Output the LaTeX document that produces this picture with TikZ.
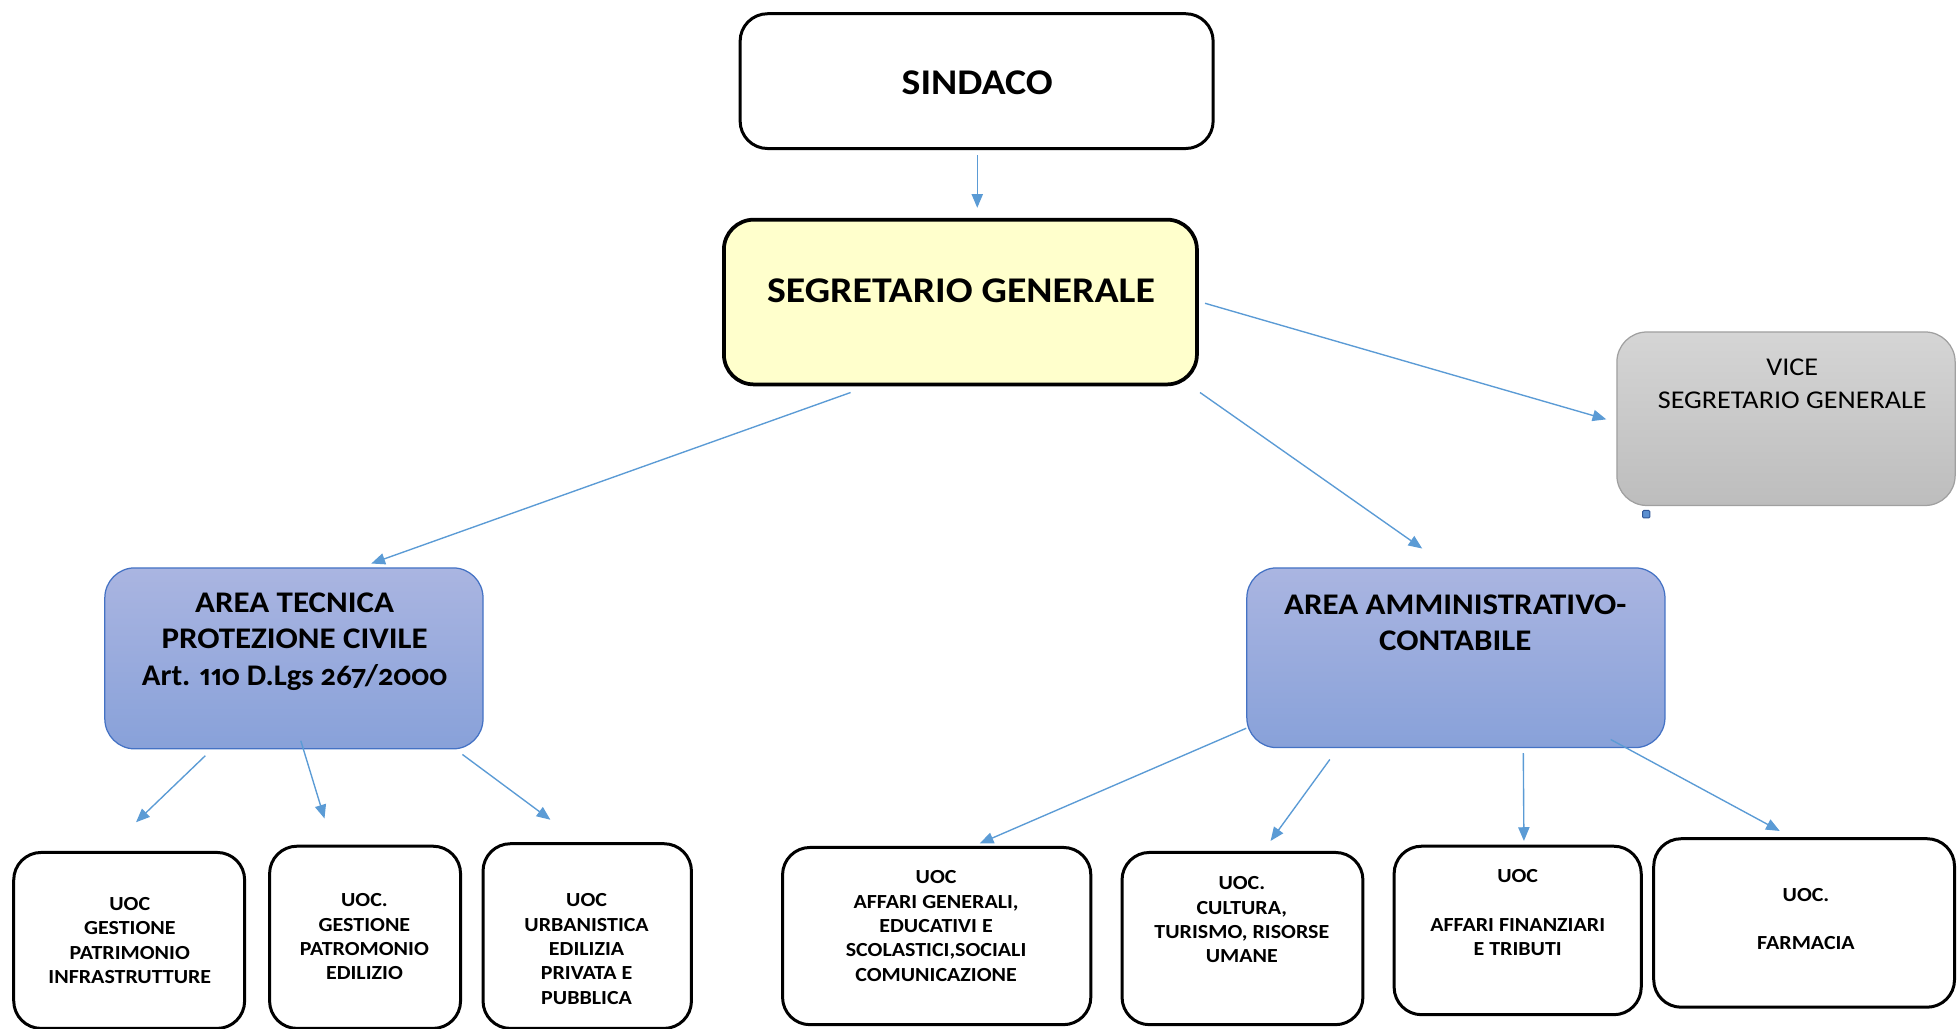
\documentclass[tikz,border=0pt]{standalone}
\usepackage{fontspec}
\setmainfont{Carlito}[FakeStretch=1.1]
\newfontfamily\oldnum{Carlito}[Numbers={Proportional,OldStyle},FakeStretch=1.03]
\usetikzlibrary{arrows.meta,calc}
\definecolor{arrblue}{HTML}{5B9BD5}
\definecolor{segyel}{HTML}{FFFFCC}
\definecolor{areatop}{HTML}{AAB5E1}
\definecolor{areabot}{HTML}{88A1D9}
\definecolor{areaedge}{HTML}{4472C4}
\definecolor{vicetop}{HTML}{D5D5D5}
\definecolor{vicebot}{HTML}{BDBDBD}
\definecolor{viceedge}{HTML}{A0A0A0}
\definecolor{sqfill}{HTML}{5B8FD0}
\definecolor{sqedge}{HTML}{2F5597}
\tikzset{
  conn/.style={draw=arrblue, line width=1.1pt, -{Triangle[length=11pt,width=9pt]}},
  whitebox/.style={draw=black, line width=2.4pt, fill=white, rounded corners=22pt, inner sep=0pt},
  segbox/.style={draw=black, line width=3pt, fill=segyel, rounded corners=24pt, inner sep=0pt},
  areabox/.style={draw=areaedge, line width=1pt, top color=areatop, bottom color=areabot, rounded corners=24pt, inner sep=0pt},
  vicebox/.style={draw=viceedge, line width=1pt, top color=vicetop, bottom color=vicebot, rounded corners=24pt, inner sep=0pt},
  bigtxt/.style={font=\bfseries\fontsize{29}{35}\selectfont, align=center, inner sep=0pt},
  segtxt/.style={font=\bfseries\fontsize{29}{35}\selectfont, align=center, inner sep=0pt},
  areatxt/.style={font=\bfseries\fontsize{24}{29}\selectfont, align=center, inner sep=0pt},
  vicetxt/.style={font=\fontsize{20.5}{27}\selectfont, align=center, inner sep=0pt},
  uoctxt/.style={font=\bfseries\fontsize{16}{19.5}\selectfont, align=center, inner sep=0pt},
}
\begin{document}
\begin{tikzpicture}[x=1pt,y=-1pt]
\useasboundingbox (0,0) rectangle (1568,824);
% top boxes
\node[whitebox, minimum width=379pt, minimum height=108pt] (sind) at (782.5,65) {};
\node[bigtxt] (sindT) at (783,66) {SINDACO};
\node[segbox, minimum width=379pt, minimum height=132pt] (seg) at (769.5,242) {};
\node[segtxt] (segT) at (770,233) {SEGRETARIO GENERALE};
\node[vicebox, minimum width=271pt, minimum height=139pt] (vice) at (1431,335.5) {};
\node[vicetxt] (viceT) at (1436,307.5) {VICE\\SEGRETARIO GENERALE};
\node[draw=sqedge, fill=sqfill, line width=0.8pt, minimum size=6pt, inner sep=0pt, rounded corners=1pt] (sq) at (1319,412) {};
% areas
\node[areabox, minimum width=303pt, minimum height=145pt] (tec) at (235.5,527.5) {};
\node[areatxt] (tecT) at (236,514) {AREA TECNICA\\PROTEZIONE CIVILE\\{\oldnum Art. 110 D.Lgs 267/2000}};
\node[areabox, minimum width=335pt, minimum height=144pt] (amm) at (1166.5,527) {};
\node[areatxt] (ammT) at (1166,499) {AREA AMMINISTRATIVO-\\CONTABILE};
% bottom boxes
\node[whitebox, minimum width=185pt, minimum height=141pt] (ua) at (103.5,753.5) {};
\node[uoctxt] (uaT) at (104,753.5) {UOC\\GESTIONE\\PATRIMONIO\\INFRASTRUTTURE};
\node[whitebox, minimum width=153pt, minimum height=146pt] (ub) at (292.5,751) {};
\node[uoctxt] (ubT) at (292,750.5) {UOC.\\GESTIONE\\PATROMONIO\\EDILIZIO};
\node[whitebox, minimum width=167pt, minimum height=148pt] (uc) at (470.5,750) {};
\node[uoctxt] (ucT) at (470,760.5) {UOC\\URBANISTICA\\EDILIZIA\\PRIVATA E\\PUBBLICA};
\node[whitebox, minimum width=247pt, minimum height=142pt] (ud) at (750.5,750) {};
\node[uoctxt] (udT) at (750,742) {UOC\\AFFARI GENERALI,\\EDUCATIVI E\\SCOLASTICI,SOCIALI\\COMUNICAZIONE};
\node[whitebox, minimum width=193pt, minimum height=138pt] (ue) at (995.5,752) {};
\node[uoctxt] (ueT) at (995,737) {UOC.\\CULTURA,\\TURISMO, RISORSE\\UMANE};
\node[whitebox, minimum width=198pt, minimum height=135pt] (uf) at (1216,745.5) {};
\node[uoctxt] (ufT) at (1216,731.5) {UOC\\[19.5pt]AFFARI FINANZIARI\\E TRIBUTI};
\node[whitebox, minimum width=241pt, minimum height=135pt] (ug) at (1445.5,739.5) {};
\node[uoctxt] (ugT) at (1447,736) {UOC.\\[19pt]FARMACIA};
% connectors
\draw[conn] ($(sind.south)+(0.5,4)$) -- ($(seg.north)+(13.5,-8)$);
\draw[conn] ($(seg.south west)+(103,5)$) -- ($(tec.north west)+(214,-3)$);
\draw[conn] ($(seg.south east)+(1,5)$) -- ($(amm.north west)+(141,-15)$);
\draw[conn] ($(seg.east)+(5,1)$) -- ($(vice.west)+(-8,0.5)$);
\draw[conn] ($(tec.south west)+(81,5)$) -- ($(ua.north)+(5.5,-23)$);
\draw[conn] ($(tec.south)+(5.5,-7)$) -- ($(ub.north)+(-32.5,-21)$);
\draw[conn] ($(tec.south east)+(-17,4)$) -- ($(uc.north)+(-29.5,-18)$);
\draw[conn] ($(amm.south west)+(0,-16)$) -- ($(ud.north)+(34.5,-2)$);
\draw[conn] ($(amm.south west)+(67,9)$) -- ($(ue.north)+(22.5,-8)$);
\draw[conn] ($(amm.south west)+(222,4)$) -- ($(uf.north)+(5,-3)$);
\draw[conn] ($(amm.south east)+(-44,-7)$) -- ($(ug.north)+(-19.5,-5)$);
\end{tikzpicture}
\end{document}
